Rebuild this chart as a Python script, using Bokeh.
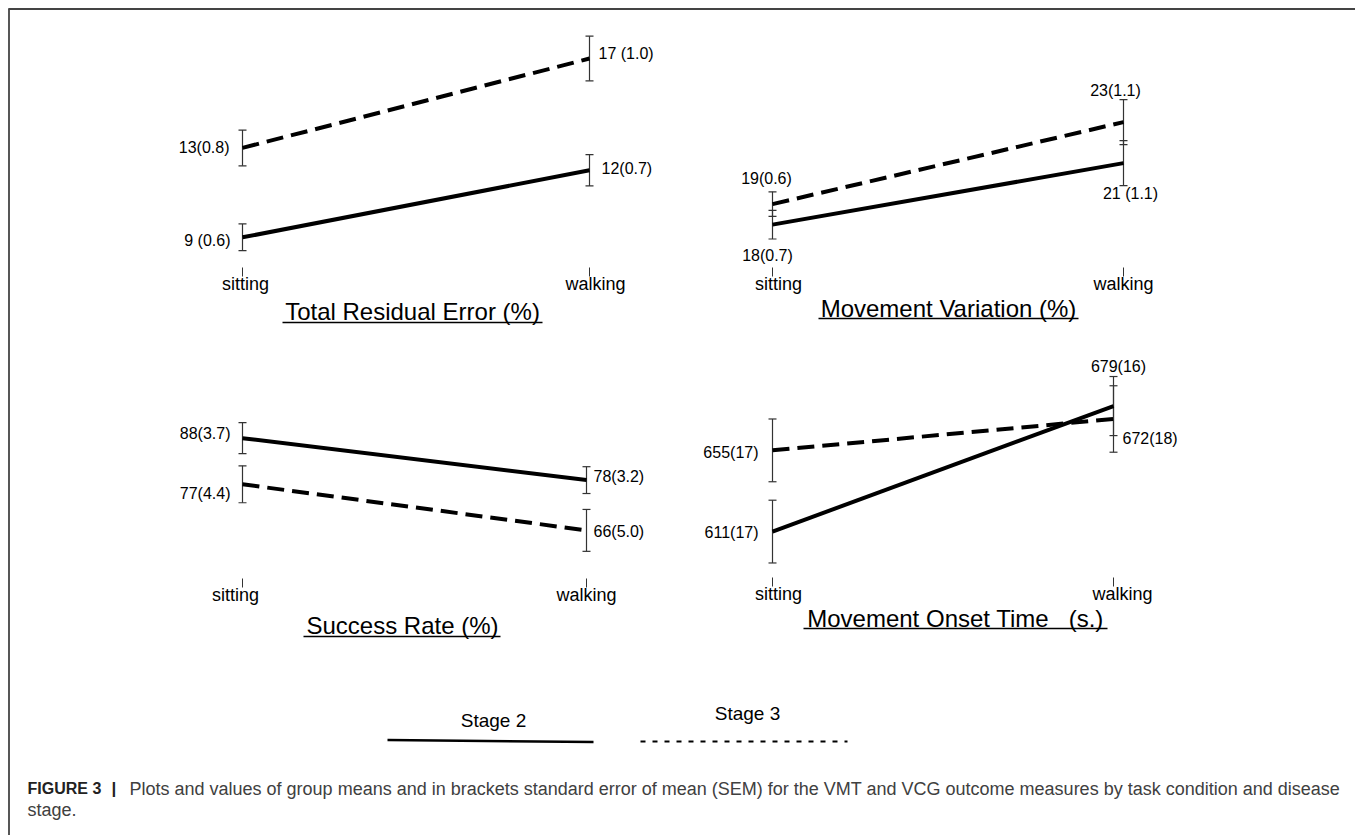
from bokeh.plotting import figure
from bokeh.models import Range1d, ColumnDataSource, Whisker, TeeHead
from bokeh.core.properties import value
from bokeh.embed import file_html
from bokeh.resources import INLINE

# ---------------------------------------------------------------- data
conditions = ["sitting", "walking"]

tre_stage2 = [9, 12]
tre_stage2_sem = [0.6, 0.7]
tre_stage3 = [13, 17]
tre_stage3_sem = [0.8, 1.0]

mv_stage2 = [18, 21]
mv_stage2_sem = [0.7, 1.1]
mv_stage3 = [19, 23]
mv_stage3_sem = [0.6, 1.1]

sr_stage2 = [88, 78]
sr_stage2_sem = [3.7, 3.2]
sr_stage3 = [77, 66]
sr_stage3_sem = [4.4, 5.0]

mot_stage2 = [611, 679]
mot_stage2_sem = [17, 16]
mot_stage3 = [655, 672]
mot_stage3_sem = [17, 18]

stage_names = ["Stage 2", "Stage 3"]

# ---------------------------------------------------------------- layout
W, H = 1355, 835
FONT = value("Liberation Sans")

panels = [
    dict(key="tre", title="Total Residual Error (%)",
         s2=tre_stage2, s2e=tre_stage2_sem, s3=tre_stage3, s3e=tre_stage3_sem,
         fmt="{:.1f}", gap2=[" ", ""], gap3=["", " "],
         x_px=(242, 589), v0=12.75, y0=153, k=22.35,
         tick_y=283, tick_dx=(3, 6), title_cx=412, title_y=311, ul=(282, 542, 322),
         place2=[("right", -12, 3), ("left", 12, -2)],
         place3=[("right", -13, 0), ("left", 9, -5)]),
    dict(key="mv", title="Movement Variation (%)",
         s2=mv_stage2, s2e=mv_stage2_sem, s3=mv_stage3, s3e=mv_stage3_sem,
         fmt="{:.1f}", gap2=["", " "], gap3=["", ""],
         x_px=(772, 1123), v0=20.25, y0=178, k=20.5,
         tick_y=283, tick_dx=(6, 0), title_cx=948, title_y=308, ul=(818, 1078, 318),
         place2=[("center", -5, 31), ("center", 7, 30)],
         place3=[("center", -6, -26), ("center", -8, -32)]),
    dict(key="sr", title="Success Rate (%)",
         s2=sr_stage2, s2e=sr_stage2_sem, s3=sr_stage3, s3e=sr_stage3_sem,
         fmt="{:.1f}", gap2=["", ""], gap3=["", ""],
         x_px=(242, 586), v0=77.25, y0=482.75, k=4.19,
         tick_y=594, tick_dx=(-7, 0), title_cx=402, title_y=625, ul=(303, 500, 636),
         place2=[("right", -12, -5), ("left", 7, -4)],
         place3=[("right", -12, 9), ("left", 7, 1)]),
    dict(key="mot", title="Movement Onset Time\u00a0\u00a0 (s.)",
         s2=mot_stage2, s2e=mot_stage2_sem, s3=mot_stage3, s3e=mot_stage3_sem,
         fmt="{:d}", gap2=["", ""], gap3=["", ""],
         x_px=(772, 1113), v0=654.25, y0=451.25, k=1.846,
         tick_y=593, tick_dx=(6, 9), title_cx=955, title_y=618, ul=(803, 1107, 628),
         place2=[("right", -14, 1), ("center", 5, -40)],
         place3=[("right", -14, 2), ("left", 9, 20)]),
]

p = figure(width=W, height=H, output_backend="svg", toolbar_location=None,
           x_range=Range1d(0, W), y_range=Range1d(H, 0),
           x_axis_location=None, y_axis_location=None,
           min_border=0, outline_line_color=None)
p.grid.visible = False
p.background_fill_color = "white"
p.border_fill_color = "white"

# page frame (top and left rules)
p.segment(x0=[8, 8.5], y0=[8.5, 8], x1=[W, 8.5], y1=[8.5, H],
          line_color="#444444", line_width=1.8)

for pn in panels:
    xs, xw = pn["x_px"]
    sx = xw - xs
    xr = f"{pn['key']}_x"
    yr = f"{pn['key']}_y"
    p.extra_x_ranges[xr] = Range1d(-xs / sx, (W - xs) / sx)
    p.extra_y_ranges[yr] = Range1d(pn["v0"] + (pn["y0"] - H) / pn["k"],
                                   pn["v0"] + pn["y0"] / pn["k"])
    idx = list(range(len(conditions)))

    # error bars
    for means, sems in ((pn["s2"], pn["s2e"]), (pn["s3"], pn["s3e"])):
        src = ColumnDataSource(dict(
            x=idx,
            lo=[m - e for m, e in zip(means, sems)],
            hi=[m + e for m, e in zip(means, sems)]))
        w = Whisker(base="x", lower="lo", upper="hi", source=src,
                    dimension="height", x_range_name=xr, y_range_name=yr,
                    line_color="#333333", line_width=1.2,
                    upper_head=TeeHead(size=8, line_color="#333333", line_width=1.2),
                    lower_head=TeeHead(size=8, line_color="#333333", line_width=1.2))
        p.add_layout(w)

    # group mean lines
    p.line(idx, pn["s2"], line_color="black", line_width=4,
           x_range_name=xr, y_range_name=yr)
    p.line(idx, pn["s3"], line_color="black", line_width=4, line_dash="17 8",
           x_range_name=xr, y_range_name=yr)

    # value labels: mean(SEM)
    for means, sems, gaps, place in ((pn["s2"], pn["s2e"], pn["gap2"], pn["place2"]),
                                     (pn["s3"], pn["s3e"], pn["gap3"], pn["place3"])):
        for i, (m, e, g, (al, dx, dy)) in enumerate(zip(means, sems, gaps, place)):
            p.text(x=[i], y=[m], text=[f"{m}{g}({pn['fmt'].format(e)})"],
                   x_offset=dx, y_offset=dy, text_align=al, text_baseline="middle",
                   text_font=FONT, text_font_size="16px", text_color="black",
                   x_range_name=xr, y_range_name=yr)

    # condition ticks and labels
    ty = pn["tick_y"]
    p.segment(x0=idx, x1=idx, y0=[ty - 16] * 2, y1=[ty - 7] * 2,
              line_color="#333333", line_width=1, x_range_name=xr)
    for i, cond in enumerate(conditions):
        p.text(x=[i], y=[ty], text=[cond], x_offset=pn["tick_dx"][i],
               text_align="center", text_baseline="middle",
               text_font=FONT, text_font_size="18px", text_color="black",
               x_range_name=xr)

    # underlined panel title
    p.text(x=[pn["title_cx"]], y=[pn["title_y"]], text=[pn["title"]],
           text_align="center", text_baseline="middle",
           text_font=FONT, text_font_size="24px", text_color="black")
    ux0, ux1, uy = pn["ul"]
    p.segment(x0=[ux0], x1=[ux1], y0=[uy], y1=[uy], line_color="black", line_width=1.5)

# legend
p.text(x=[493, 747], y=[720, 713], text=stage_names, text_align="center",
       text_baseline="middle", text_font=FONT, text_font_size="19px", text_color="black")
p.segment(x0=[387], x1=[593], y0=[739.5], y1=[741.5], line_color="black", line_width=2.5)
p.segment(x0=[640], x1=[847], y0=[741], y1=[741], line_color="black", line_width=2.2,
          line_dash="5 7")

# caption
p.text(x=[27], y=[788], text=["FIGURE 3"], text_align="left", text_baseline="middle",
       text_font=FONT, text_font_size="16px", text_font_style="bold", text_color="#222222")
p.text(x=[111], y=[788], text=["|"], text_align="left", text_baseline="middle",
       text_font=FONT, text_font_size="17px", text_font_style="bold", text_color="#222222")
p.text(x=[129], y=[788],
       text=["Plots and values of group means and in brackets standard error of mean (SEM) "
             "for the VMT and VCG outcome measures by task condition and disease"],
       text_align="left", text_baseline="middle",
       text_font=FONT, text_font_size="18px", text_color="#404040")
p.text(x=[27], y=[809], text=["stage."], text_align="left", text_baseline="middle",
       text_font=FONT, text_font_size="18px", text_color="#404040")

open("out.html", "w").write(file_html(p, INLINE))
